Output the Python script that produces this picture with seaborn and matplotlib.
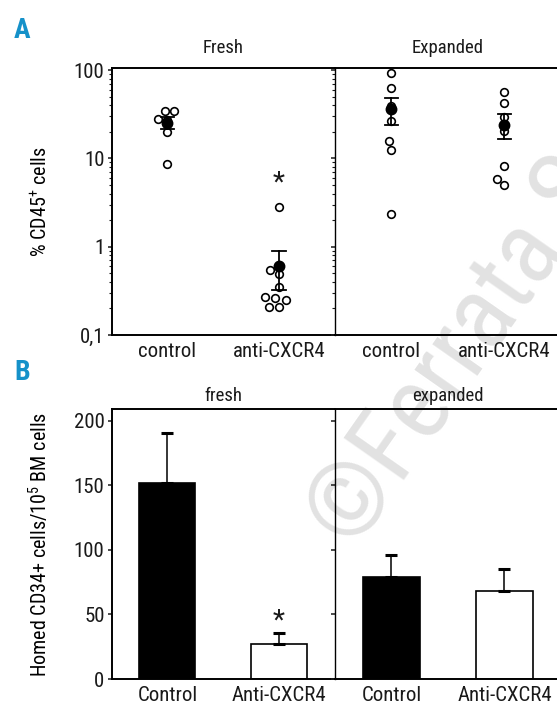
import numpy as np
import pandas as pd
import seaborn as sns
import matplotlib.pyplot as plt
from matplotlib.ticker import LogLocator, NullFormatter

# panel A: % CD45+ cells per mouse
a_groups = ['control', 'anti-CXCR4']
fresh_control = [34.3, 34.3, 27.2, 27.7, 20.0, 8.6]
fresh_anti = [2.83, 0.49, 0.54, 0.35, 0.25, 0.21, 0.26, 0.27, 0.21]
expanded_control = [93.2, 63.1, 39.1, 26.7, 12.4, 15.7, 2.34]
expanded_anti = [56.8, 42.0, 29.1, 20.5, 8.2, 5.8, 5.0]
a_ticks = [0.1, 1, 10, 100]
a_ticklabels = ['0,1', '1', '10', '100']

# panel B: homed CD34+ cells / 10^5 BM cells, mean and SEM
b_groups = ['Control', 'Anti-CXCR4']
fresh_homed = [152, 27.5]
fresh_homed_sem = [39, 8]
expanded_homed = [79, 68]
expanded_homed_sem = [17, 17]
b_ticks = [0, 50, 100, 150, 200]

FONT = 'Roboto Condensed'
plt.rcParams['font.family'] = [FONT, 'DejaVu Sans']
plt.rcParams['mathtext.fontset'] = 'custom'
plt.rcParams['mathtext.rm'] = FONT
plt.rcParams['mathtext.default'] = 'rm'
plt.rcParams['axes.linewidth'] = 1.4
plt.rcParams['text.color'] = '#1a1a1a'
plt.rcParams['xtick.color'] = '#1a1a1a'
plt.rcParams['ytick.color'] = '#1a1a1a'

fig = plt.figure(figsize=(5.57, 7.04), dpi=100)
axA1 = fig.add_axes([0.2002, 0.5241, 0.4013, 0.3786])
axA2 = fig.add_axes([0.6014, 0.5241, 0.4057, 0.3786])
axB1 = fig.add_axes([0.2002, 0.0355, 0.4013, 0.3831])
axB2 = fig.add_axes([0.6014, 0.0355, 0.4057, 0.3831])

# watermark behind everything
fig.text(354 / 557, 1 - 552 / 704, '©Ferrata Storti', rotation=55, rotation_mode='anchor',
         ha='left', va='baseline', fontsize=74, color='#e2e2e2', zorder=-1)


def long_df(ctrl, anti):
    return pd.DataFrame({'group': [a_groups[0]] * len(ctrl) + [a_groups[1]] * len(anti),
                         'value': ctrl + anti})


for ax, ctrl, anti, title in [(axA1, fresh_control, fresh_anti, 'Fresh'),
                              (axA2, expanded_control, expanded_anti, 'Expanded')]:
    df = long_df(ctrl, anti)
    sns.swarmplot(data=df, x='group', y='value', order=a_groups, ax=ax, color='white',
                  edgecolor='black', linewidth=1.2, size=5.5, zorder=2)
    sns.pointplot(data=df, x='group', y='value', order=a_groups, ax=ax, errorbar='se',
                  color='black', linestyle='none', marker='o', markersize=6.5,
                  capsize=0.12, err_kws={'linewidth': 1.3}, zorder=3)
    ax.set_yscale('log')
    ax.set_ylim(0.1, 104)
    ax.set_xlim(-0.5, 1.5)
    ax.set_yticks(a_ticks, a_ticklabels)
    ax.yaxis.set_minor_locator(LogLocator(subs=np.arange(2, 10)))
    ax.yaxis.set_minor_formatter(NullFormatter())
    ax.set_title(title, fontsize=13.5, pad=11)

for ax, means, sems, title in [(axB1, fresh_homed, fresh_homed_sem, 'fresh'),
                               (axB2, expanded_homed, expanded_homed_sem, 'expanded')]:
    df = pd.DataFrame({'group': b_groups, 'homed': means})
    sns.barplot(data=df, x='group', y='homed', order=b_groups, hue='group',
                palette=dict(zip(b_groups, ['black', 'white'])), edgecolor='black',
                linewidth=1.2, width=0.5, errorbar=None, legend=False, ax=ax)
    ax.errorbar(x=np.arange(len(b_groups)), y=means, yerr=[np.zeros(len(sems)), sems],
                fmt='none', ecolor='black', elinewidth=1.1, capsize=4.5, capthick=2.2,
                zorder=3)
    ax.set_ylim(0, 209)
    ax.set_xlim(-0.5, 1.5)
    ax.set_yticks(b_ticks)
    ax.set_title(title, fontsize=13.5, pad=6)

for ax in [axA1, axA2, axB1, axB2]:
    ax.set_facecolor('none')
    ax.set_xlabel('')
    ax.set_ylabel('')
    ax.spines['right'].set_visible(False)
    ax.tick_params(axis='x', length=0, labelsize=15, pad=5)
    ax.tick_params(axis='y', which='major', direction='out', length=3, width=1.1,
                   labelsize=15, pad=2)
    ax.tick_params(axis='y', which='minor', direction='out', length=2, width=0.8)

for ax in [axA2, axB2]:
    ax.tick_params(axis='y', labelleft=False)
    ax.spines['left'].set_linewidth(1.0)

axA1.set_ylabel('% CD45$^{+}$ cells', fontsize=14.5)
axA1.yaxis.set_label_coords(-0.27, 0.5)
axB1.set_ylabel('Homed CD34+ cells/10$^{5}$ BM cells', fontsize=14.5)
axB1.yaxis.set_label_coords(-0.27, 0.5)

axA1.text(1, 5.3, '*', ha='center', va='center', fontsize=20)
axB1.text(1, 45, '*', ha='center', va='center', fontsize=20)

fig.text(22 / 557, 1 - 30 / 704, 'A', color='#1591c9', fontsize=20, fontweight='bold',
         ha='center', va='center')
fig.text(22 / 557, 1 - 372 / 704, 'B', color='#1591c9', fontsize=20, fontweight='bold',
         ha='center', va='center')

fig.savefig('out.png', dpi=100)
